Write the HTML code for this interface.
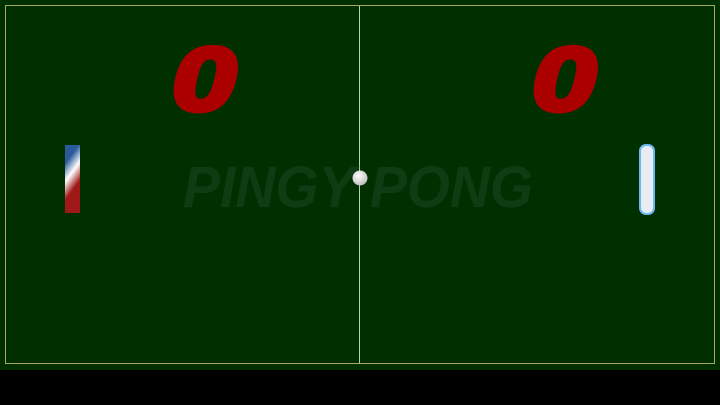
<!DOCTYPE html>
<html><head><meta charset="utf-8"><style>
html,body{margin:0;padding:0;background:#000;width:720px;height:405px;overflow:hidden}
svg{display:block}
</style></head><body>
<svg width="720" height="405">
<defs>
<linearGradient id="lp" x1="0" y1="0" x2="0.3" y2="1">
<stop offset="0.25" stop-color="#2a5a9a"/><stop offset="0.5" stop-color="#ffffff"/><stop offset="0.75" stop-color="#a01818"/>
</linearGradient>
<radialGradient id="ball" cx="0.4" cy="0.35" r="0.7"><stop offset="0" stop-color="#fff"/><stop offset="1" stop-color="#bbb"/></radialGradient>
</defs>
<rect x="0" y="0" width="720" height="370" fill="#003000"/>
<rect x="5.5" y="5.5" width="709" height="358" fill="none" stroke="#a8a860" stroke-width="1"/>
<line x1="359.5" y1="6" x2="359.5" y2="363" stroke="#b8d0b0" stroke-width="1"/>
<text x="183" y="207" font-family="Liberation Sans, sans-serif" font-weight="bold" font-style="italic" font-size="58" fill="#103c14" textLength="350" lengthAdjust="spacingAndGlyphs">PINGY PONG</text>
<text x="172" y="110" font-family="Liberation Sans, sans-serif" font-weight="bold" font-style="italic" font-size="90" fill="#aa0000" stroke="#aa0000" stroke-width="5" stroke-linejoin="round" textLength="64" lengthAdjust="spacingAndGlyphs">0</text>
<text x="532" y="110" font-family="Liberation Sans, sans-serif" font-weight="bold" font-style="italic" font-size="90" fill="#aa0000" stroke="#aa0000" stroke-width="5" stroke-linejoin="round" textLength="64" lengthAdjust="spacingAndGlyphs">0</text>
<rect x="65" y="145" width="15" height="68" fill="url(#lp)"/>
<rect x="640" y="145" width="14" height="69" rx="6" fill="#e8ecf4" stroke="#6ab8f0" stroke-width="2"/>
<circle cx="360" cy="178" r="7.5" fill="url(#ball)"/>
</svg>
</body></html>
